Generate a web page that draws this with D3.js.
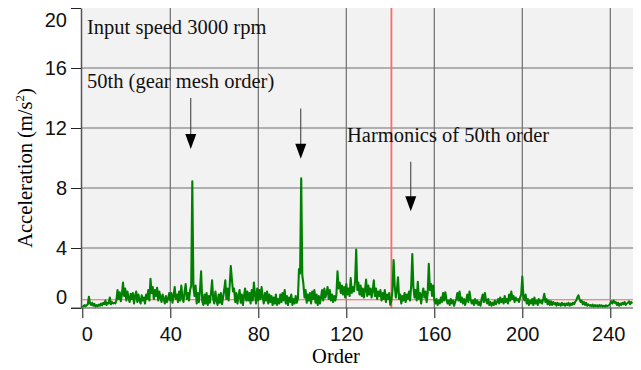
<!DOCTYPE html>
<html>
<head>
<meta charset="utf-8">
<script src="https://cdn.jsdelivr.net/npm/d3@7"></script>
<style>
  body { margin: 0; background: #fff; }
  svg { display: block; }
</style>
</head>
<body>
<svg></svg>
<script>
// spectrum read every half order, from order 0 to 250
const ORDER_STEP = 0.5;
const ACCEL = [
  0.15,0.1,0.2,0.12,0.18,0.25,0.75,0.3,0.2,0.35,0.15,0.28,0.1,0.2,0.12,0.22,0.15,0.3,0.18,0.35,
  0.25,0.5,0.2,0.35,0.3,0.7,0.25,0.4,0.3,0.35,0.3,0.5,1.2,0.6,1.05,0.45,0.9,1.7,0.8,1.3,
  0.5,1.1,0.7,0.4,0.95,0.6,1.0,0.3,0.8,1.1,0.4,0.9,0.5,0.3,0.85,0.5,0.7,0.3,0.9,0.6,
  1.2,0.5,1.95,1.0,1.4,0.6,1.2,0.8,1.35,0.5,1.1,0.7,0.4,0.9,0.6,0.3,0.8,0.4,0.6,1.0,
  0.5,1.0,0.35,0.8,1.4,0.6,0.9,0.4,1.1,0.5,1.5,0.7,0.4,1.1,1.6,0.6,1.0,0.5,1.2,1.5,
  8.45,1.4,0.8,1.5,0.3,1.0,0.4,1.2,2.45,0.5,0.2,0.9,0.3,1.0,0.2,0.8,0.35,1.0,1.85,0.6,
  0.3,1.1,0.5,0.2,0.9,0.35,1.0,0.25,0.7,1.2,1.85,0.6,1.3,0.5,1.5,2.8,1.9,1.1,1.3,0.4,
  1.0,0.3,0.8,1.2,0.35,0.9,0.2,0.8,1.3,0.5,1.1,0.5,1.0,0.3,1.2,0.5,1.7,0.9,0.3,1.3,
  0.5,1.2,0.6,1.4,0.7,0.3,1.0,0.5,1.1,0.3,0.9,0.4,0.8,0.2,0.7,0.3,0.9,0.2,0.6,0.3,
  0.9,0.4,1.0,0.5,1.2,0.3,0.8,0.2,0.7,0.4,0.9,0.2,0.6,0.3,0.8,0.35,0.6,2.6,2.3,8.65,
  2.2,1.6,0.7,1.2,0.35,0.9,0.5,1.0,0.3,1.1,0.6,1.2,0.35,0.9,0.2,0.8,0.3,0.7,1.2,0.5,
  1.3,0.7,1.0,1.4,0.6,1.2,0.5,0.9,0.4,0.8,0.5,0.9,2.45,1.3,1.7,1.0,1.5,0.9,1.4,0.7,
  1.6,0.9,1.3,0.8,2.0,1.0,1.4,1.1,1.8,3.9,1.2,1.7,0.9,1.5,0.8,1.3,0.7,1.2,1.9,0.8,
  1.5,0.9,1.3,0.7,1.2,1.85,0.8,1.3,0.6,1.1,0.8,1.2,0.5,1.0,0.6,1.2,0.4,0.9,0.6,1.0,
  0.2,0.5,1.2,3.2,1.5,0.7,1.2,2.05,0.6,0.9,0.3,0.8,0.5,1.0,0.4,0.9,0.6,1.1,0.5,1.5,
  3.6,1.4,0.7,1.2,0.5,1.75,0.6,1.0,0.3,0.9,1.3,0.7,1.1,0.4,1.0,2.95,1.2,1.6,0.8,1.5,
  0.5,0.3,0.6,0.2,0.5,0.3,0.7,0.4,1.0,0.5,1.05,0.6,0.3,0.5,0.2,0.6,0.3,0.5,0.15,0.4,
  0.6,1.0,0.5,1.1,0.4,0.7,0.3,0.6,0.2,0.5,0.9,0.4,1.1,0.6,0.3,0.5,0.2,0.6,0.3,0.5,
  0.2,0.4,0.15,0.6,0.9,0.4,1.0,0.5,0.3,0.6,0.2,0.4,0.15,0.35,0.2,0.5,0.25,0.4,0.6,0.3,
  0.7,0.4,0.6,0.3,0.8,0.4,0.6,0.3,0.9,0.5,1.1,0.6,0.8,0.4,0.7,0.5,0.6,0.4,0.7,0.9,
  2.1,0.8,0.5,0.9,0.3,0.6,0.2,0.5,0.3,0.6,0.2,0.7,0.3,0.5,0.2,0.6,0.35,0.5,0.3,0.6,
  0.95,0.4,0.6,0.25,0.5,0.2,0.45,0.2,0.4,0.25,0.35,0.15,0.35,0.2,0.3,0.15,0.35,0.2,0.3,0.15,
  0.3,0.2,0.35,0.15,0.3,0.2,0.35,0.25,0.4,0.5,0.7,0.85,0.6,0.4,0.5,0.25,0.4,0.2,0.35,0.15,
  0.25,0.15,0.2,0.12,0.22,0.1,0.2,0.12,0.18,0.1,0.2,0.12,0.18,0.1,0.15,0.1,0.18,0.12,0.15,0.2,
  0.3,0.45,0.3,0.5,0.35,0.4,0.2,0.35,0.15,0.3,0.2,0.35,0.25,0.4,0.2,0.3,0.35,0.45,0.25,0.4,
  0.3
];

const X_TICKS = [0, 40, 80, 120, 160, 200, 240];
const Y_TICKS = [0, 4, 8, 12, 16, 20];
const X_GRID = [40, 80, 120, 160, 200, 240];
const Y_GRID = [4, 8, 12, 16];

const MEAN_LEVEL = 0.55;     // red horizontal line
const MARKER_ORDER = 140.5;  // red vertical cursor

const NOTES = ["Input speed 3000 rpm", "50th (gear mesh order)", "Harmonics of 50th order"];
const ARROWS = [
  { order: 49.3, from: 14, to: 10.6 },
  { order: 99.3, from: 13.3, to: 9.95 },
  { order: 149.3, from: 9.75, to: 6.45 },
];

const WIDTH = 641;
const HEIGHT = 370;
const PLOT = { left: 81, right: 633, top: 8, bottom: 308 };

const SERIF = "'Liberation Serif', 'Times New Roman', serif";
const SANS = "'Liberation Sans', Arial, sans-serif";

const x = d3.scaleLinear().domain([0, 250]).range([82.3, 632.3]);
const y = d3.scaleLinear().domain([0, 20]).range([PLOT.bottom, PLOT.top]);

const svg = d3.select("svg")
    .attr("width", WIDTH)
    .attr("height", HEIGHT);

svg.append("rect")
    .attr("x", PLOT.left)
    .attr("y", PLOT.top)
    .attr("width", PLOT.right - PLOT.left)
    .attr("height", PLOT.bottom - PLOT.top)
    .attr("fill", "#f2f2f2");

// grid
svg.append("g").selectAll("line")
    .data(X_GRID)
    .enter()
    .append("line")
    .attr("x1", d => x(d)).attr("x2", d => x(d))
    .attr("y1", PLOT.top).attr("y2", PLOT.bottom)
    .attr("stroke", "#6e6e6e")
    .attr("stroke-width", 1.2);

svg.append("g").selectAll("line")
    .data(Y_GRID)
    .enter()
    .append("line")
    .attr("x1", PLOT.left).attr("x2", PLOT.right)
    .attr("y1", d => y(d)).attr("y2", d => y(d))
    .attr("stroke", "#6e6e6e")
    .attr("stroke-width", 1.2);

// red cursor lines
svg.append("line")
    .attr("x1", x(MARKER_ORDER)).attr("x2", x(MARKER_ORDER))
    .attr("y1", PLOT.top).attr("y2", PLOT.bottom)
    .attr("stroke", "#ff6a6a")
    .attr("stroke-width", 1.8);

svg.append("line")
    .attr("x1", x(0)).attr("x2", PLOT.right)
    .attr("y1", y(MEAN_LEVEL)).attr("y2", y(MEAN_LEVEL))
    .attr("stroke", "#ff5c5c")
    .attr("stroke-width", 1.2);

// spectrum
const line = d3.line()
    .x((d, i) => x(i * ORDER_STEP))
    .y(d => y(d));

svg.append("path")
    .datum(ACCEL)
    .attr("d", line)
    .attr("fill", "none")
    .attr("stroke", "#008000")
    .attr("stroke-width", 2.1)
    .attr("stroke-linejoin", "round");

// axes
const yAxis = svg.append("g")
    .attr("transform", `translate(${PLOT.left},0)`)
    .call(d3.axisLeft(y).tickValues(Y_TICKS).tickSize(10).tickPadding(4).tickSizeOuter(0));

yAxis.select(".domain").attr("stroke", "#555").attr("stroke-width", 1.5);
yAxis.selectAll(".tick line").attr("stroke", "#222");
yAxis.selectAll(".tick text")
    .attr("font-family", SANS)
    .attr("font-size", 20)
    .attr("fill", "#111")
    .attr("dy", d => d === 0 ? "-0.23em" : d === 20 ? "0.92em" : "0.32em");

const xAxis = svg.append("g")
    .attr("transform", `translate(0,${PLOT.bottom})`)
    .call(d3.axisBottom(x).tickValues(X_TICKS).tickSize(10).tickPadding(9).tickSizeOuter(0));

xAxis.select(".domain").remove();
xAxis.selectAll(".tick line").attr("stroke", "#111");
xAxis.selectAll(".tick text")
    .attr("font-family", SANS)
    .attr("font-size", 20)
    .attr("fill", "#111")
    .attr("dx", d => d === 0 ? 4.5 : d === 240 ? -2 : 0);

svg.append("line")
    .attr("x1", PLOT.left - 10).attr("x2", PLOT.right)
    .attr("y1", PLOT.bottom).attr("y2", PLOT.bottom)
    .attr("stroke", "#444")
    .attr("stroke-width", 1.2);

// axis titles
svg.append("text")
    .attr("x", 336)
    .attr("y", 363)
    .attr("text-anchor", "middle")
    .attr("font-family", SERIF)
    .attr("font-size", 20.5)
    .text("Order");

const yTitle = svg.append("text")
    .attr("transform", "translate(32,168) rotate(-90)")
    .attr("text-anchor", "middle")
    .attr("font-family", SERIF)
    .attr("font-size", 20.5);
yTitle.append("tspan").text("Acceleration (m/s");
yTitle.append("tspan").attr("dy", -8).attr("font-size", 13).text("2");
yTitle.append("tspan").attr("dy", 8).text(")");

// annotations
const notePos = [[87, 34], [87, 88], [347, 142]];
svg.append("g").selectAll("text")
    .data(NOTES)
    .enter()
    .append("text")
    .attr("x", (d, i) => notePos[i][0])
    .attr("y", (d, i) => notePos[i][1])
    .attr("font-family", SERIF)
    .attr("font-size", 20.5)
    .attr("fill", "#111")
    .text(d => d);

const arrows = svg.append("g").selectAll("g")
    .data(ARROWS)
    .enter()
    .append("g");

arrows.append("line")
    .attr("x1", d => x(d.order)).attr("x2", d => x(d.order))
    .attr("y1", d => y(d.from)).attr("y2", d => y(d.to) - 14)
    .attr("stroke", "#333")
    .attr("stroke-width", 1);

arrows.append("path")
    .attr("d", d => {
        const cx = x(d.order), tip = y(d.to);
        return `M${cx - 5.5},${tip - 15}L${cx + 5.5},${tip - 15}L${cx},${tip}Z`;
    })
    .attr("fill", "#000");
</script>
</body>
</html>
